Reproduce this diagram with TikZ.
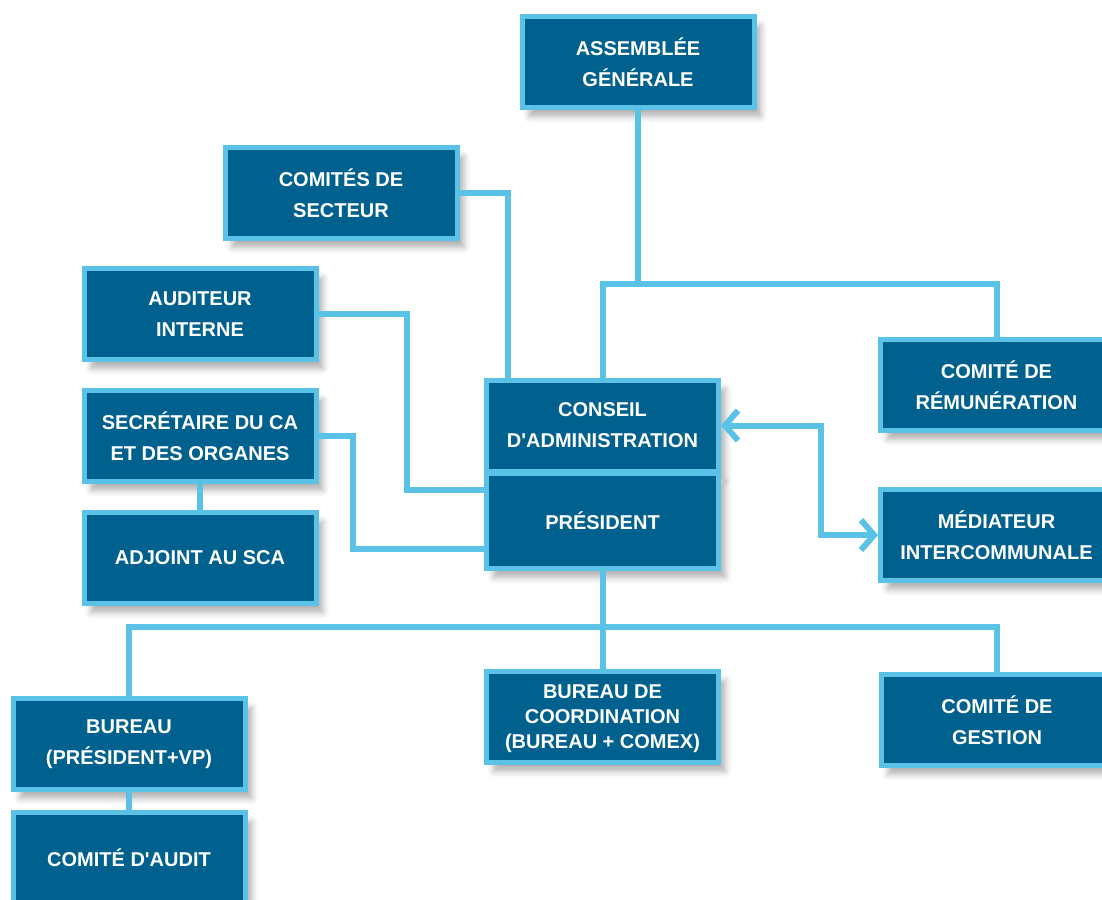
\documentclass[tikz,border=0pt]{standalone}
\usepackage{fontspec}
\setmainfont{Liberation Sans}[Ligatures=TeXOff]
\usetikzlibrary{arrows.meta,shadows.blur}
\definecolor{boxblue}{RGB}{0,97,143}
\definecolor{lineblue}{RGB}{91,194,231}

\begin{document}
\begin{tikzpicture}[x=1pt, y=-1pt,
  box/.style={draw=lineblue, line width=5pt, fill=boxblue, text=white,
    font=\bfseries\fontsize{20}{31}\selectfont, align=center,
    minimum width=232pt, minimum height=91pt, inner sep=2pt,
    blur shadow={shadow xshift=7pt, shadow yshift=-9pt, shadow opacity=30, shadow blur radius=6pt}},
  link/.style={draw=lineblue, line width=6pt},
  barbs/.style={arrows={Straight Barb[length=13pt,width=30pt]-Straight Barb[length=13pt,width=30pt]}}]
\useasboundingbox (0,0) rectangle (1102,899);
\clip (0,0) rectangle (1102,899);

\node[box] (ag) at (638,62) {ASSEMBLÉE\\GÉNÉRALE};
\node[box] (cs) at (341,193) {COMITÉS DE\\SECTEUR};
\node[box] (ai) at (200,314) {AUDITEUR\\INTERNE};
\node[box] (sec) at (200,436) {SECRÉTAIRE DU CA\\ET DES ORGANES};
\node[box] (adj) at (200,558) {ADJOINT AU SCA};
\node[box] (cons) at (602.5,425.5) {CONSEIL\\D'ADMINISTRATION};
\node[box, minimum height=95pt] (pres) at (602.5,521) {PRÉSIDENT};
\node[box] (rem) at (996.5,385) {COMITÉ DE\\RÉMUNÉRATION};
\node[box] (med) at (996.5,535) {MÉDIATEUR\\INTERCOMMUNALE};
\node[box, font=\bfseries\fontsize{20}{25}\selectfont] (bc) at (602.5,717) {\rule{0pt}{18pt}BUREAU DE\\COORDINATION\\(BUREAU + COMEX)};
\node[box] (ges) at (997,720) {COMITÉ DE\\GESTION};
\node[box] (bur) at (129,744) {BUREAU\\(PRÉSIDENT+VP)};
\node[box] (aud) at (129,858) {COMITÉ D'AUDIT};

\coordinate (j1) at (638,284);
\coordinate (j2) at (602.5,627);
\coordinate (b1) at (407,490);
\coordinate (b2) at (353,549);
\coordinate (b3) at (821,480);

\draw[link] (ag.south) -- (j1);
\draw[link] (cons.north) |- (j1) -| (rem.north);
\draw[link] (cs.east) -| ([xshift=24pt]cons.north west);
\draw[link] (ai.east) -| (b1) -- (b1 -| pres.west);
\draw[link] (sec.east) -| (b2) -- (b2 -| pres.west);
\draw[link] (sec) -- (adj);
\draw[link, barbs] (cons.east) -| (b3) |- (med.west);
\draw[link] (pres.south) -- (bc.north);
\draw[link] (bur.north) |- (j2) -| (ges.north);
\draw[link] (bur) -- (aud);
\end{tikzpicture}
\end{document}
